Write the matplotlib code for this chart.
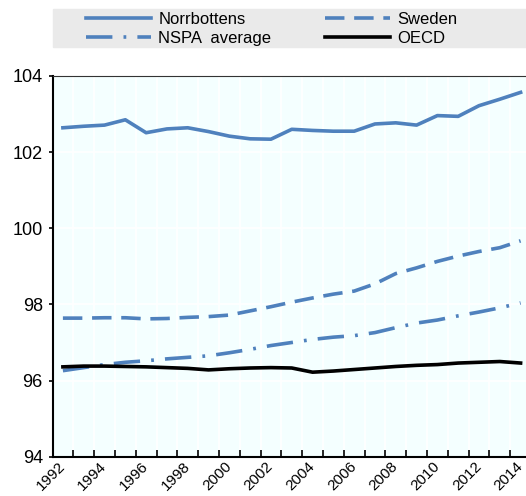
import matplotlib
matplotlib.use('Agg')
import matplotlib.pyplot as plt
from matplotlib.patches import Rectangle

plt.rcParams['font.family'] = ['Liberation Sans', 'DejaVu Sans']
plt.rcParams['lines.scale_dashes'] = False

years = list(range(1992, 2015))

norrbottens = [102.64, 102.68, 102.71, 102.85, 102.51, 102.61, 102.64, 102.54, 102.42, 102.35,
               102.34, 102.60, 102.57, 102.55, 102.55, 102.74, 102.77, 102.71, 102.96, 102.94,
               103.22, 103.39, 103.57]
sweden = [97.64, 97.64, 97.65, 97.65, 97.62, 97.63, 97.66, 97.68, 97.72, 97.83,
          97.94, 98.06, 98.17, 98.27, 98.35, 98.54, 98.81, 98.96, 99.13, 99.27,
          99.39, 99.49, 99.67]
nspa = [96.26, 96.34, 96.42, 96.48, 96.52, 96.57, 96.61, 96.65, 96.73, 96.82,
        96.92, 97.00, 97.08, 97.14, 97.18, 97.26, 97.39, 97.51, 97.59, 97.70,
        97.80, 97.91, 98.04]
oecd = [96.36, 96.38, 96.38, 96.37, 96.36, 96.34, 96.32, 96.28, 96.31, 96.33,
        96.34, 96.33, 96.22, 96.25, 96.29, 96.33, 96.37, 96.40, 96.42, 96.46,
        96.48, 96.50, 96.46]

blue = '#4F81BD'
W, H = 526, 496
fig = plt.figure(figsize=(W / 100, H / 100), dpi=100)

# axes runs slightly past the right edge, as in the original
ax = fig.add_axes([52.5 / W, 1 - 456.7 / H, (531 - 52.5) / W, (456.7 - 76) / H])
ax.set_facecolor('#F4FFFF')

x = list(range(len(years)))
ax.plot(x, norrbottens, color=blue, lw=2.6, label='Norrbottens')
ax.plot(x, sweden, color=blue, lw=2.6, dashes=(14, 7), label='Sweden')
ax.plot(x, nspa, color=blue, lw=2.6, dashes=(19, 8, 2, 8), label='NSPA  average')
ax.plot(x, oecd, color='black', lw=2.6, label='OECD')

ax.set_xlim(-0.5, len(years) - 0.5)
ax.set_ylim(94, 104)
ax.set_yticks([94, 96, 98, 100, 102, 104])

ax.set_xticks([i + 0.5 for i in x[:-1]], minor=True)
ax.set_xticks(x[::2])
ax.set_xticklabels([str(y) for y in years[::2]], rotation=45, ha='right', va='center',
                   rotation_mode='anchor')
ax.tick_params(axis='x', which='major', length=0, pad=5, labelsize=11)
ax.tick_params(axis='x', which='minor', direction='in', length=5, width=1.2)
ax.tick_params(axis='y', direction='out', length=3, width=1.2, labelsize=13, pad=4)

ax.grid(True, axis='y', color='white', lw=1.2)
ax.grid(True, axis='x', which='minor', color='white', lw=1.2)
ax.set_axisbelow(True)

for s in ['left', 'bottom']:
    ax.spines[s].set_linewidth(1.5)
ax.spines['top'].set_linewidth(0.8)
ax.spines['top'].set_color('#333333')
ax.spines['right'].set_visible(False)

fig.patches.append(Rectangle((53 / W, 1 - 47 / H), (W - 53) / W, 38 / H,
                             transform=fig.transFigure, color='#EAEAEA', zorder=0))
handles, labels = ax.get_legend_handles_labels()
order = [0, 2, 1, 3]
fig.legend([handles[i] for i in order], [labels[i] for i in order], ncol=2,
           loc='center left', bbox_to_anchor=(86 / W, 1 - 29 / H), frameon=False,
           fontsize=12, handlelength=3.9, handletextpad=0.45, columnspacing=3.2,
           labelspacing=0.25, borderpad=0, borderaxespad=0)

fig.savefig('out.png', dpi=100)
